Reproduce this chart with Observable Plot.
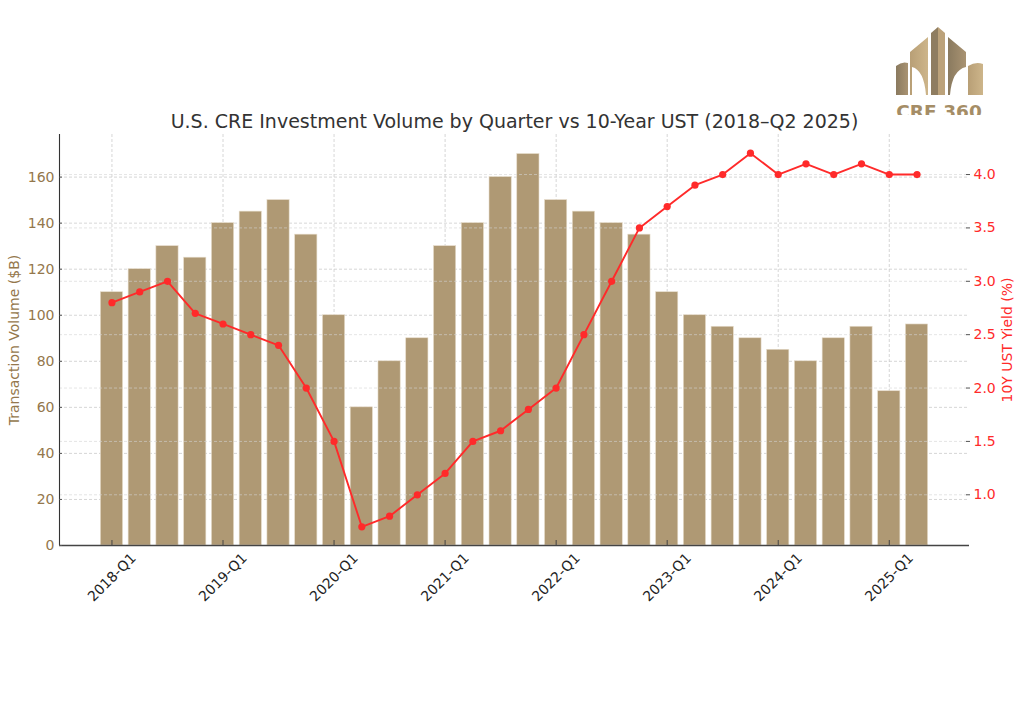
<!DOCTYPE html>
<html>
<head>
<meta charset="utf-8">
<script src="https://cdn.jsdelivr.net/npm/d3@7"></script>
<script src="https://cdn.jsdelivr.net/npm/@observablehq/plot@0.6"></script>
<style>
  html, body { margin: 0; padding: 0; background: #fff; }
  #wrap { position: relative; width: 1024px; height: 716px; overflow: hidden; }
  #logo { position: absolute; left: 0; top: 0; }
  #chart svg { display: block; }
</style>
</head>
<body>
<div id="wrap">
  <div id="chart"></div>
  <svg id="logo" width="1024" height="130" viewBox="0 0 1024 130">
    <defs>
      <linearGradient id="gDark" x1="0" x2="1" y1="0" y2="0">
        <stop offset="0" stop-color="#8a7a5f"/>
        <stop offset="1" stop-color="#a99372"/>
      </linearGradient>
      <linearGradient id="gLight" x1="0" x2="1" y1="0" y2="0">
        <stop offset="0" stop-color="#b89f76"/>
        <stop offset="1" stop-color="#cdb58a"/>
      </linearGradient>
      <clipPath id="clipTxt"><rect x="880" y="0" width="144" height="115"/></clipPath>
    </defs>
    <path d="M896,95 L896,66 Q902,61 908,63 L908,95 Z" fill="url(#gDark)"/>
    <path d="M910,95 L910,52 L928,37 L928,95 L926,95 Q924,70 912,67 L912,95 Z" fill="url(#gLight)"/>
    <path d="M931,95 L931,33 L938,27 L938,95 Z" fill="#8f7d60"/>
    <path d="M938,95 L938,27 L945,33 L945,95 Z" fill="#bca27a"/>
    <path d="M948,95 L948,37 L966,52 L966,67 Q952,70 950,95 Z" fill="url(#gDark)"/>
    <path d="M968,95 L968,66 Q976,61 983,64 L983,95 Z" fill="url(#gLight)"/>
    <text x="939" y="118" text-anchor="middle" font-family="DejaVu Sans" font-weight="bold" font-size="18.5" fill="#a58d66" clip-path="url(#clipTxt)">CRE 360</text>
  </svg>
</div>
<script>
// ---- Data ----
const quarters = [
  "2018-Q1","2018-Q2","2018-Q3","2018-Q4",
  "2019-Q1","2019-Q2","2019-Q3","2019-Q4",
  "2020-Q1","2020-Q2","2020-Q3","2020-Q4",
  "2021-Q1","2021-Q2","2021-Q3","2021-Q4",
  "2022-Q1","2022-Q2","2022-Q3","2022-Q4",
  "2023-Q1","2023-Q2","2023-Q3","2023-Q4",
  "2024-Q1","2024-Q2","2024-Q3","2024-Q4",
  "2025-Q1","2025-Q2"
];
const volume = [
  110, 120, 130, 125,
  140, 145, 150, 135,
  100, 60, 80, 90,
  130, 140, 160, 170,
  150, 145, 140, 135,
  110, 100, 95, 90,
  85, 80, 90, 95,
  67, 96
];
const yield10 = [
  2.8, 2.9, 3.0, 2.7,
  2.6, 2.5, 2.4, 2.0,
  1.5, 0.7, 0.8, 1.0,
  1.2, 1.5, 1.6, 1.8,
  2.0, 2.5, 3.0, 3.5,
  3.7, 3.9, 4.0, 4.2,
  4.0, 4.1, 4.0, 4.1,
  4.0, 4.0
];
const xTickLabels = ["2018-Q1","2019-Q1","2020-Q1","2021-Q1","2022-Q1","2023-Q1","2024-Q1","2025-Q1"];
const leftTicks = [0, 20, 40, 60, 80, 100, 120, 140, 160];
const rightTicks = [1.0, 1.5, 2.0, 2.5, 3.0, 3.5, 4.0];

const titleText = "U.S. CRE Investment Volume by Quarter vs 10-Year UST (2018\u2013Q2 2025)";
const leftLabel = "Transaction Volume ($B)";
const rightLabel = "10Y UST Yield (%)";

// ---- Scales (matplotlib-like auto margins) ----
const n = quarters.length;
const barW = 0.8;
const xPad = (n - 1 + barW) * 0.05;
const xDomain = [-barW / 2 - xPad, n - 1 + barW / 2 + xPad];
const yMax = d3.max(volume) * 1.05;
const yDomain = [0, yMax];
const rMin = d3.min(yield10), rMax = d3.max(yield10);
const rPad = (rMax - rMin) * 0.05;
const rDomain = [rMin - rPad, rMax + rPad];
const toLeft = v => (v - rDomain[0]) / (rDomain[1] - rDomain[0]) * yMax;
const fromLeft = v => v / yMax * (rDomain[1] - rDomain[0]) + rDomain[0];

const rows = quarters.map((q, i) => ({i, q, vol: volume[i], yl: yield10[i], ylLeft: toLeft(yield10[i])}));
const xTickIdx = xTickLabels.map(l => quarters.indexOf(l));

const BROWN = "#94774c";
const RED = "#ff2a2a";
const BAR = "#af9974";
const GRID = "#cccccc";

const chart = Plot.plot({
  width: 1024,
  height: 716,
  marginLeft: 59,
  marginRight: 55,
  marginTop: 134,
  marginBottom: 171,
  style: {fontFamily: "DejaVu Sans", fontSize: "14px", background: "#fff"},
  x: {type: "linear", domain: xDomain},
  y: {domain: yDomain},
  marks: [
    Plot.ruleY(leftTicks, {y: d => d, stroke: GRID, strokeWidth: 0.8, strokeDasharray: "3,2"}),
    Plot.ruleX(xTickIdx, {x: d => d, stroke: GRID, strokeWidth: 0.8, strokeDasharray: "3,2"}),
    Plot.rectY(rows, {x1: d => d.i - barW / 2, x2: d => d.i + barW / 2, y1: 0, y2: "vol", fill: BAR, stroke: "#e6dccb", strokeWidth: 0.6}),
    Plot.ruleY(rightTicks, {y: d => toLeft(d), stroke: "#d4d4d4", strokeOpacity: 0.75, strokeWidth: 0.8, strokeDasharray: "3,2"}),
    Plot.ruleX([xDomain[0]], {x: d => d, stroke: "#333", strokeWidth: 1.1}),
    Plot.ruleY([0], {y: d => d, stroke: "#444", strokeWidth: 1.3}),
    Plot.line(rows, {x: "i", y: "ylLeft", stroke: RED, strokeWidth: 1.9}),
    Plot.dot(rows, {x: "i", y: "ylLeft", r: 3.6, fill: RED, stroke: "none"}),
    Plot.axisY({anchor: "left", ticks: leftTicks, tickSize: -3, tickPadding: 8, stroke: "#555", fill: BROWN, fontSize: 14, label: null}),
    Plot.axisY({anchor: "right", ticks: rightTicks.map(toLeft), tickFormat: v => fromLeft(v).toFixed(1), tickSize: -4, tickPadding: 8, stroke: "#555", fill: RED, fontSize: 14, label: null}),
    Plot.axisX({ticks: xTickIdx, tickSize: -5, stroke: "#444", text: null, label: null}),
    Plot.text(xTickIdx, {x: d => d, frameAnchor: "bottom", dy: 32, rotate: -45, lineAnchor: "middle", text: d => quarters[d], fontSize: 14, fill: "#222", textAnchor: "middle"}),
    Plot.text([leftLabel], {frameAnchor: "left", dx: -45, rotate: -90, lineAnchor: "middle", text: d => d, fill: BROWN, fontSize: 14, textAnchor: "middle"}),
    Plot.text([rightLabel], {frameAnchor: "right", dx: 38, rotate: -90, lineAnchor: "middle", text: d => d, fill: RED, fontSize: 14, textAnchor: "middle"}),
    Plot.text([titleText], {frameAnchor: "top", dy: -13, lineAnchor: "middle", text: d => d, fill: "#333", fontSize: 19, textAnchor: "middle"})
  ]
});
document.getElementById("chart").appendChild(chart);
</script>
</body>
</html>
